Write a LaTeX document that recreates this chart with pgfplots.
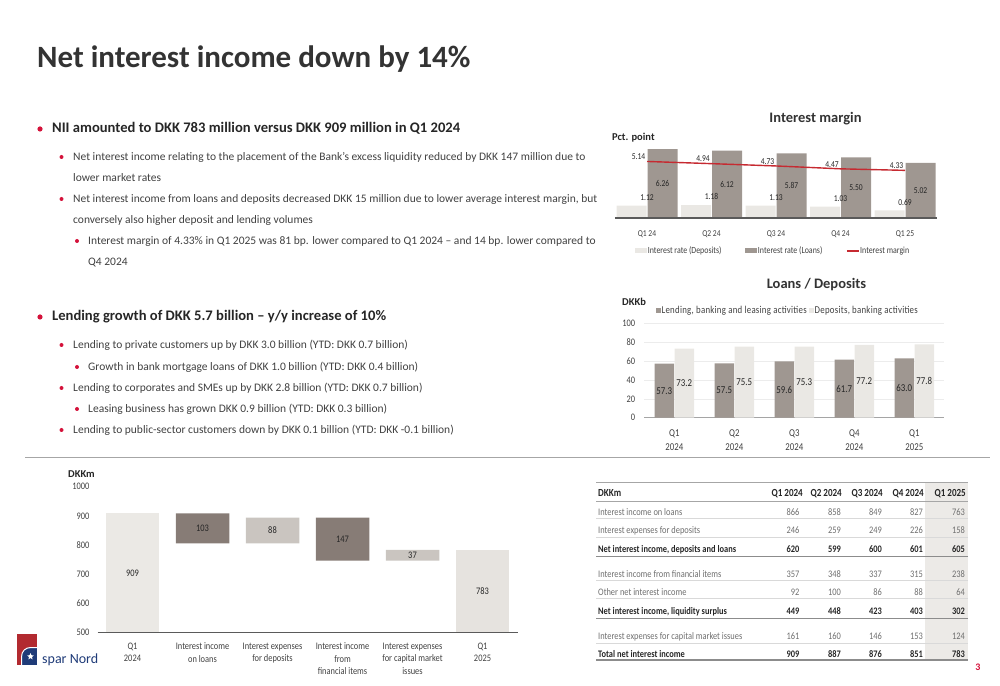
\documentclass[border=0pt]{standalone}
\usepackage{fontspec}
\setmainfont{Carlito}
\newfontfamily\cf[FakeStretch=0.84]{Carlito}
\newfontfamily\cfls[FakeStretch=0.84,LetterSpace=2.5]{Carlito}
\usepackage{pgfplots}
\pgfplotsset{compat=1.18}
\usetikzlibrary{shapes.geometric}
\definecolor{titlegray}{HTML}{333333}
\definecolor{headgray}{HTML}{262626}
\definecolor{textgray}{HTML}{404040}
\definecolor{labgray}{HTML}{262626}
\definecolor{rowgray}{HTML}{6E6E6E}
\definecolor{bulletred}{HTML}{D4123A}
\definecolor{depcol}{HTML}{EAE8E4}
\definecolor{loancol}{HTML}{9F9791}
\definecolor{marginred}{HTML}{C62A31}
\definecolor{wfdark}{HTML}{877C76}
\definecolor{wfmid}{HTML}{CAC5C0}
\definecolor{wflight}{HTML}{EBE9E5}
\definecolor{wflighttwo}{HTML}{E6E3DF}
\definecolor{axgray}{HTML}{5A5A5A}
\definecolor{axtwogray}{HTML}{A5A5A5}
\definecolor{gridgray}{HTML}{ECECEC}
\definecolor{sepgray}{HTML}{A6A6A6}
\definecolor{colshade}{HTML}{ECEAE7}
\definecolor{tline}{HTML}{D9D9D9}
\definecolor{tlinedark}{HTML}{8C8C8C}
\definecolor{logored}{HTML}{B22A30}
\definecolor{logoblue}{HTML}{1F3B78}
\newcommand\fs[2]{\fontsize{#1}{#2}\selectfont}
\tikzset{
  nrow/.style={font=\cf\fs{10}{12}, text=rowgray},
  brow/.style={font=\cf\bfseries\fs{10}{12}, text=headgray},
  thead/.style={font=\cf\bfseries\fs{10.8}{12}, text=headgray},
  sub/.style={anchor=base west, inner sep=0pt, font=\fs{11.5}{14}, text=textgray},
  head/.style={anchor=base west, inner sep=0pt, font=\bfseries\fs{14.6}{17}, text=headgray},
}
\newcommand\trow[8]{%
  \node[#2, anchor=base west, inner sep=0pt] at (598,685-#1-3.3) {#3};
  \node[#2, anchor=base east, inner sep=0pt] at (799.5,685-#1-3.3) {#4};
  \node[#2, anchor=base east, inner sep=0pt] at (841,685-#1-3.3) {#5};
  \node[#2, anchor=base east, inner sep=0pt] at (882,685-#1-3.3) {#6};
  \node[#2, anchor=base east, inner sep=0pt] at (923,685-#1-3.3) {#7};
  \node[#2, anchor=base east, inner sep=0pt] at (965,685-#1-3.3) {#8};
}
\begin{document}
\begin{tikzpicture}[x=1pt,y=1pt]
\path[use as bounding box] (0,0) rectangle (1000,685);

% ---------- title ----------
\node[anchor=base west, inner sep=0pt, text=titlegray, font=\bfseries\fs{31}{36}] at (37,617) {Net interest income down by 14\%};

% ---------- bullets ----------
\fill[bulletred] (40,556) circle (2.6);
\node[head] at (52,552) {NII amounted to DKK 783 million versus DKK 909 million in Q1 2024};
\fill[bulletred] (61.5,528) circle (2);
\node[sub] at (73,524.5) {Net interest income relating to the placement of the Bank’s excess liquidity reduced by DKK 147 million due to};
\node[sub] at (73,503.5) {lower market rates};
\fill[bulletred] (61.5,486) circle (2);
\node[sub] at (73,482.5) {Net interest income from loans and deposits decreased DKK 15 million due to lower average interest margin, but};
\node[sub] at (73,461.5) {conversely also higher deposit and lending volumes};
\fill[bulletred] (77,444) circle (2);
\node[sub] at (88,440.5) {Interest margin of 4.33\% in Q1 2025 was 81 bp. lower compared to Q1 2024 – and 14 bp. lower compared to};
\node[sub] at (88,419.5) {Q4 2024};

\fill[bulletred] (40,368) circle (2.6);
\node[head] at (52,364) {Lending growth of DKK 5.7 billion – y/y increase of 10\%};
\fill[bulletred] (61.5,340) circle (2);
\node[sub] at (73,336.5) {Lending to private customers up by DKK 3.0 billion (YTD: DKK 0.7 billion)};
\fill[bulletred] (77,318) circle (2);
\node[sub] at (88,314.5) {Growth in bank mortgage loans of DKK 1.0 billion (YTD: DKK 0.4 billion)};
\fill[bulletred] (61.5,297) circle (2);
\node[sub] at (73,293.5) {Lending to corporates and SMEs up by DKK 2.8 billion (YTD: DKK 0.7 billion)};
\fill[bulletred] (77,276) circle (2);
\node[sub] at (88,272.5) {Leasing business has grown DKK 0.9 billion (YTD: DKK 0.3 billion)};
\fill[bulletred] (61.5,255) circle (2);
\node[sub] at (73,251.5) {Lending to public-sector customers down by DKK 0.1 billion (YTD: DKK -0.1 billion)};

\draw[sepgray, line width=0.8pt] (25,228) -- (990,228);

% ---------- chart titles ----------
\node[font=\bfseries\fs{14.5}{17}, text=titlegray] at (815.5,566) {Interest margin};
\node[anchor=west, inner sep=0pt, font=\bfseries\fs{10.5}{12}, text=headgray] at (612,547) {Pct. point};
\node[font=\bfseries\fs{14.5}{17}, text=titlegray] at (816.5,400) {Loans / Deposits};
\node[anchor=west, inner sep=0pt, font=\bfseries\fs{10.5}{12}, text=headgray] at (622,383) {DKKb};
\node[anchor=west, inner sep=0pt, font=\bfseries\fs{10.5}{12}, text=headgray] at (68,211) {DKKm};

% ---------- interest margin ----------
\begin{axis}[
  at={(614.75pt,467pt)}, anchor=south west,
  width=322.5pt, height=77pt, scale only axis,
  xmin=-0.5, xmax=4.5, ymin=0, ymax=7,
  axis x line*=bottom, axis y line=none,
  x axis line style={draw=axgray, line width=1.6pt, -},
  xtick={0,1,2,3,4}, xticklabels={Q1 24,Q2 24,Q3 24,Q4 24,Q1 25},
  major tick length=0pt,
  xticklabel style={font=\cf\fs{9}{11}, text=textgray, anchor=north, inner sep=0pt, yshift=-12.5pt},
  axis on top, clip=false,
  legend columns=3,
  legend style={draw=none, fill=none, at={(0.0628,-0.4286)}, anchor=west, inner sep=0pt,
    font=\cf\fs{9.4}{11}, text=textgray, nodes={inner sep=0.7pt},
    /tikz/every even column/.append style={column sep=23pt}},
]
\addplot[ybar, bar width=30pt, bar shift=-15.5pt, fill=depcol, draw=none,
  nodes near coords, point meta=explicit symbolic,
  nodes near coords style={font=\cf\fs{9}{11}, text=labgray, anchor=south, inner sep=5pt},
  legend image code/.code={\fill[depcol] (0pt,-2.5pt) rectangle (12pt,2.5pt);}]
  coordinates {(0,1.12)[1.12] (1,1.18)[1.18] (2,1.13)[1.13] (3,1.03)[1.03] (4,0.69)[0.69]};
\addlegendentry{Interest rate (Deposits)}
\addplot[ybar, bar width=30pt, bar shift=15.5pt, fill=loancol, draw=none,
  legend image code/.code={\fill[loancol] (0pt,-2.5pt) rectangle (12pt,2.5pt);}]
  coordinates {(0,6.26) (1,6.12) (2,5.87) (3,5.50) (4,5.02)};
\addlegendentry{Interest rate (Loans)}
\addplot[marginred, line width=1.4pt, mark=none,
  nodes near coords, point meta=explicit symbolic,
  nodes near coords style={font=\cf\fs{9}{11}, text=labgray, anchor=south east, inner sep=1pt},
  legend image code/.code={\draw[marginred, line width=1.4pt] (0pt,0pt) -- (12pt,0pt);}]
  coordinates {(0,5.14)[5.14] (1,4.94)[4.94] (2,4.73)[4.73] (3,4.47)[4.47] (4,4.33)[4.33]};
\addlegendentry{Interest margin}
\addplot[draw=none, mark=none, forget plot, nodes near coords, point meta=explicit symbolic,
  nodes near coords style={font=\cf\fs{9}{11}, text=labgray, anchor=center}]
  coordinates {(0.2403,3.13)[6.26] (1.2403,3.06)[6.12] (2.2403,2.935)[5.87] (3.2403,2.75)[5.50] (4.2403,2.51)[5.02]};
\end{axis}

% ---------- loans / deposits ----------
\begin{axis}[
  at={(644.3pt,267.3pt)}, anchor=south west, width=300pt, height=94.3pt, scale only axis,
  xmin=-0.5, xmax=4.5, ymin=0, ymax=100,
  axis x line*=bottom, axis y line*=left,
  y axis line style={draw=none}, x axis line style={draw=axtwogray, line width=1.6pt, -},
  ytick={0,20,40,60,80,100}, ymajorgrids, grid style={draw=gridgray, line width=0.6pt},
  xtick={0,1,2,3,4}, xticklabels={{Q1\\2024},{Q2\\2024},{Q3\\2024},{Q4\\2024},{Q1\\2025}},
  major tick length=0pt,
  /pgf/number format/assume math mode=true,
  yticklabel style={font=\cf\fs{10}{12}, text=textgray, anchor=east, inner sep=0pt, xshift=-9pt},
  xticklabel style={font=\cf\fs{10.5}{14}, text=textgray, align=center, anchor=north, inner sep=0pt, yshift=-11.8pt},
  clip=false,
  legend columns=2,
  legend style={draw=none, fill=none, at={(0.038,1.1315)}, anchor=west, inner sep=0pt,
    font=\cfls\fs{10.5}{12}, text=textgray, nodes={inner sep=0.7pt},
    /tikz/every even column/.append style={column sep=1.5pt}},
]
\addplot[ybar, bar width=19.5pt, bar shift=-10pt, fill=loancol, draw=none,
  legend image code/.code={\fill[loancol] (0pt,-2.5pt) rectangle (5pt,2.5pt);}]
  coordinates {(0,57.3) (1,57.5) (2,59.6) (3,61.7) (4,63.0)};
\addlegendentry{Lending, banking and leasing activities}
\addplot[ybar, bar width=19.5pt, bar shift=10pt, fill=depcol, draw=none,
  legend image code/.code={\fill[depcol] (0pt,-2.5pt) rectangle (5pt,2.5pt);}]
  coordinates {(0,73.2) (1,75.5) (2,75.3) (3,77.2) (4,77.8)};
\addlegendentry{Deposits, banking activities}
\addplot[draw=none, mark=none, forget plot, nodes near coords, point meta=explicit symbolic,
  nodes near coords style={font=\cf\fs{10.5}{12}, text=labgray, anchor=center}]
  coordinates {(-0.1667,28.65)[57.3] (0.8333,28.75)[57.5] (1.8333,29.8)[59.6] (2.8333,30.85)[61.7] (3.8333,31.5)[63.0]};
\addplot[draw=none, mark=none, forget plot, nodes near coords, point meta=explicit symbolic,
  nodes near coords style={font=\cf\fs{10.5}{12}, text=labgray, anchor=center}]
  coordinates {(0.1667,36.6)[73.2] (1.1667,37.75)[75.5] (2.1667,37.65)[75.3] (3.1667,38.6)[77.2] (4.1667,38.9)[77.8]};
\end{axis}

% ---------- waterfall ----------
\begin{axis}[
  at={(97.5pt,52.3pt)}, anchor=south west, width=420pt, height=146pt, scale only axis,
  xmin=-0.5, xmax=5.5, ymin=500, ymax=1000,
  axis x line*=bottom, axis y line*=left, y axis line style={draw=none},
  x axis line style={draw=axgray, line width=1.6pt, -},
  ytick={500,600,700,800,900,1000}, major tick length=0pt,
  /pgf/number format/assume math mode=true, /pgf/number format/1000 sep={},
  yticklabel style={font=\cf\fs{10}{12}, text=textgray, anchor=east, inner sep=0pt, xshift=-8pt},
  xtick={0,1,2,3,4,5},
  xticklabels={{Q1\\2024},{Interest income\\on loans},{Interest expenses\\for deposits},{Interest income\\from\\financial items},{Interest expenses\\for capital market\\issues},{Q1\\2025}},
  xticklabel style={font=\cf\fs{10}{12.5}, text=textgray, align=center, anchor=north, inner sep=0pt, yshift=-10pt},
  ybar stacked, bar width=53.5pt,
  axis on top,
]
\addplot[fill=none, draw=none] coordinates {(0,0) (1,806) (2,806) (3,747) (4,747) (5,0)};
\addplot[fill=wflight, draw=none] coordinates {(0,909) (1,0) (2,0) (3,0) (4,0) (5,0)};
\addplot[fill=wfdark, draw=none] coordinates {(0,0) (1,103) (2,0) (3,147) (4,0) (5,0)};
\addplot[fill=wfmid, draw=none] coordinates {(0,0) (1,0) (2,88) (3,0) (4,37) (5,0)};
\addplot[fill=wflighttwo, draw=none] coordinates {(0,0) (1,0) (2,0) (3,0) (4,0) (5,783)};
\end{axis}
\begin{axis}[
  at={(97.5pt,52.3pt)}, anchor=south west, width=420pt, height=146pt, scale only axis,
  xmin=-0.5, xmax=5.5, ymin=500, ymax=1000, hide axis, clip=false]
\addplot[draw=none, mark=none, nodes near coords, point meta=explicit symbolic,
  nodes near coords style={font=\cf\fs{10}{12}, text=labgray, anchor=center}]
  coordinates {(0,704.5)[909] (1,857.5)[103] (2,850)[88] (3,820.5)[147] (4,765.5)[37] (5,641.5)[783]};
\end{axis}

% ---------- table ----------
\fill[colshade] (925,685-482) rectangle (968,685-660);
\draw[sepgray, line width=0.6pt] (596,685-482) -- (968,685-482);
\draw[sepgray, line width=0.6pt] (596,685-501) -- (968,685-501);
\foreach \yy in {518,537,580,598,643} {\draw[tline, line width=0.6pt] (596,685-\yy) -- (968,685-\yy);}
\foreach \yy in {556,618} {\draw[tlinedark, line width=0.7pt] (596,685-\yy) -- (968,685-\yy);}
\draw[tlinedark, line width=1.8pt] (596,685-660) -- (968,685-660);
\node[thead, anchor=base west, inner sep=0pt] at (598,685-497) {DKKm};
\node[thead, anchor=base east, inner sep=0pt] at (803,685-497) {Q1 2024};
\node[thead, anchor=base east, inner sep=0pt] at (842,685-497) {Q2 2024};
\node[thead, anchor=base east, inner sep=0pt] at (883,685-497) {Q3 2024};
\node[thead, anchor=base east, inner sep=0pt] at (924,685-497) {Q4 2024};
\node[thead, anchor=base east, inner sep=0pt] at (966,685-497) {Q1 2025};
\trow{512}{nrow}{Interest income on loans}{866}{858}{849}{827}{763}
\trow{530}{nrow}{Interest expenses for deposits}{246}{259}{249}{226}{158}
\trow{549}{brow}{Net interest income, deposits and loans}{620}{599}{600}{601}{605}
\trow{574}{nrow}{Interest income from financial items}{357}{348}{337}{315}{238}
\trow{592}{nrow}{Other net interest income}{92}{100}{86}{88}{64}
\trow{611}{brow}{Net interest income, liquidity surplus}{449}{448}{423}{403}{302}
\trow{636}{nrow}{Interest expenses for capital market issues}{161}{160}{146}{153}{124}
\trow{654}{brow}{Total net interest income}{909}{887}{876}{851}{783}

% ---------- page number ----------
\node[font=\bfseries\fs{10}{12}, text=bulletred] at (978,18) {3};

% ---------- logo ----------
\fill[logored] (17,20) rectangle (37,51);
\fill[logoblue, draw=white, line width=1pt] (21.5,19.5) -- (21.5,28) .. controls (21.5,34) and (25.5,37.5) .. (31,37.5) -- (37.5,37.5) -- (37.5,19.5) -- cycle;
\node[star, star points=5, star point ratio=2.2, fill=white, inner sep=0pt, minimum size=7pt] at (30.5,28.5) {};
\node[anchor=west, inner sep=0pt, font=\fs{14}{14}, text=logoblue] at (42,25.5) {spar Nord};
\end{tikzpicture}
\end{document}
